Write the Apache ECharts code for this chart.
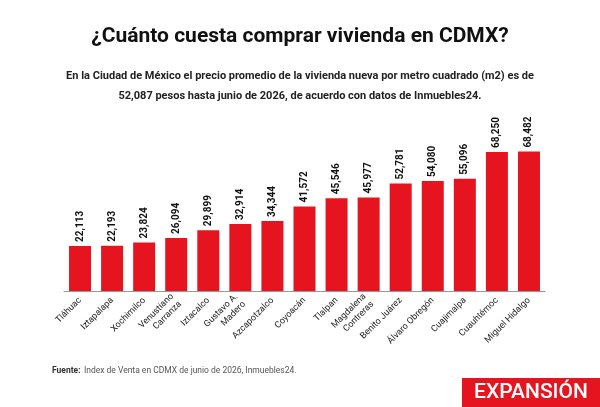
<!DOCTYPE html>
<html><head><meta charset="utf-8">
<script src="https://cdn.jsdelivr.net/npm/echarts@6/dist/echarts.min.js"></script>
<style>body{margin:0;background:#fff}#c{width:600px;height:407px}</style>
</head><body><div id="c"></div>
<script>
const categories = ["Tláhuac","Iztapalapa","Xochimilco","Venustiano\nCarranza","Iztacalco","Gustavo A.\nMadero","Azcapotzalco","Coyoacán","Tlalpan","Magdalena\nContreras","Benito Juárez","Álvaro Obregón","Cuajimalpa","Cuauhtémoc","Miguel Hidalgo"];
const values = [22113,22193,23824,26094,29899,32914,34344,41572,45546,45977,52781,54080,55096,68250,68482];
const chart = echarts.init(document.getElementById('c'));
const F = 'Roboto, "Liberation Sans", sans-serif';
chart.setOption({
  animation:false,
  graphic:[
    {type:'text',x:300,y:26,style:{text:'¿Cuánto cuesta comprar vivienda en CDMX?',font:'bold 21px '+F,fill:'#111',align:'center'}},
    {type:'text',x:300,y:66,style:{text:'En la Ciudad de México el precio promedio de la vivienda nueva por metro cuadrado (m2) es de\n52,087 pesos hasta junio de 2026, de acuerdo con datos de Inmuebles24.',font:'bold 11px '+F,fill:'#222',align:'center',lineHeight:20}},
    {type:'text',left:52,top:365,style:{rich:{b:{font:'bold 8.5px '+F,fill:'#333'},n:{font:'8.5px '+F,fill:'#555'}},text:'{b|Fuente:} {n|Index de Venta en CDMX de junio de 2026, Inmuebles24.}'}},
    {type:'rect',shape:{x:462,y:378,width:138,height:29},style:{fill:'#e5141f'}},
    {type:'text',x:531,y:393,style:{text:'EXPANSIÓN',font:'500 21px '+F,fill:'#fff',align:'center',verticalAlign:'middle'}}
  ],
  grid:{left:64,right:55,top:118,bottom:116},
  xAxis:{type:'category',data:categories,axisTick:{show:false},axisLine:{lineStyle:{color:'#999'}},
    axisLabel:{rotate:45,interval:0,fontSize:9,fontFamily:F,color:'#222',lineHeight:11,align:'right',margin:8}},
  yAxis:{type:'value',min:0,max:85000,show:false,splitLine:{show:false}},
  series:[{type:'bar',data:values,barWidth:22,itemStyle:{color:'#e5141f'},
    label:{show:true,position:'top',rotate:90,align:'left',verticalAlign:'middle',distance:4,fontSize:10,fontWeight:'bold',fontFamily:F,color:'#111',
      formatter:p=>p.value.toLocaleString('en-US')}}]
});
</script></body></html>
